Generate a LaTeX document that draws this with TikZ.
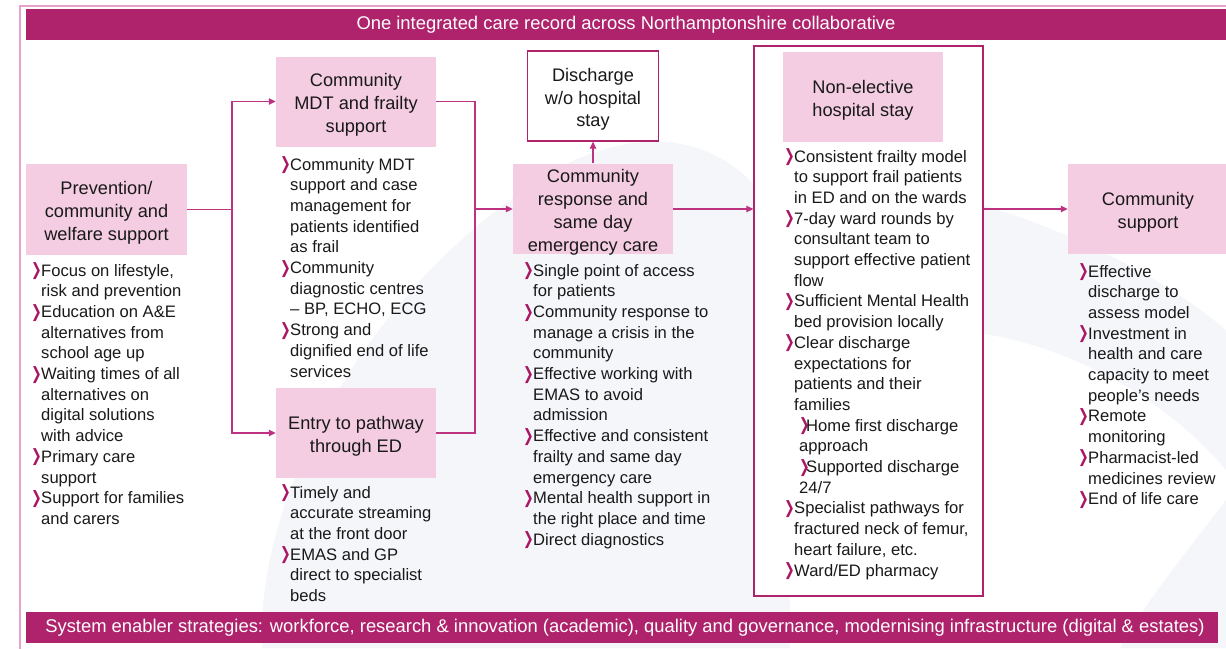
\documentclass[tikz,border=0pt]{standalone}
\usepackage{fontspec}
\setmainfont{Liberation Sans}
\newfontfamily\dingfont{DejaVu Sans}
\usepackage{xcolor}
\usetikzlibrary{arrows.meta}

\definecolor{plum}{RGB}{174,35,108}
\definecolor{blush}{RGB}{244,205,226}
\definecolor{rim}{RGB}{232,160,205}
\definecolor{wire}{RGB}{190,50,130}
\definecolor{ink}{RGB}{25,25,25}
\definecolor{mist}{RGB}{244,246,250}
\definecolor{dot}{RGB}{170,22,100}

% chevron bullet in front of each item
\newcommand{\bl}{\makebox[10pt][l]{\raisebox{0.4pt}{\scalebox{0.75}[1]{\dingfont\bfseries\fontsize{17}{17}\selectfont\color{dot}❯}}}}
\newcommand{\sbl}{\makebox[7pt][l]{\raisebox{0.4pt}{\scalebox{0.75}[1]{\dingfont\bfseries\fontsize{17}{17}\selectfont\color{dot}❯}}}}
% box caption, set a little low in its box
\newcommand{\lbl}[1]{\raisebox{-3.5pt}[\height][\depth]{\begin{tabular}{@{}c@{}}#1\end{tabular}}}

\begin{document}
\begin{tikzpicture}[x=1pt,y=-1pt,
    stage/.style={fill=blush, minimum width=160, minimum height=90, inner sep=0pt,
                  align=center, text=ink, font=\fontsize{18.2}{22.7}\selectfont},
    outcome/.style={stage, fill=white, draw=plum, line width=1.3pt},
    banner/.style={fill=plum, text=white, inner sep=0pt, minimum height=31,
                   font=\fontsize{18.4}{22}\selectfont},
    items/.style={anchor=base west, inner sep=0pt, text=ink,
                  font=\fontsize{16.6}{20.7}\selectfont},
    wire/.style={draw=wire, line width=1.2pt},
    flow/.style={wire, -{Triangle[length=7pt,width=6.5pt]}}]
\useasboundingbox (0,0) rectangle (1226,648);

% faint swirl behind
\fill[mist] (262,648) .. controls (255,470) and (400,250) .. (575,160)
    .. controls (690,110) and (760,170) .. (790,240) -- (790,648) -- cycle;
\fill[mist] (760,170) .. controls (930,170) and (1120,240) .. (1226,330)
    -- (1226,470) .. controls (1150,380) and (1020,320) .. (900,330)
    -- (790,330) -- cycle;
\fill[mist] (1226,500) .. controls (1180,560) and (1140,610) .. (1120,648) -- (1226,648) -- cycle;

\draw[rim, line width=2pt] (1230,6) -- (20,6) -- (20,652);

\node[banner, minimum width=1200] (record) at (626,24.5)
    {One integrated care record across Northamptonshire collaborative};
\node[banner, minimum width=1192] (enabler) at (622,627.5)
    {\hspace*{6pt}System enabler strategies: workforce, research \& innovation (academic), quality and governance, modernising infrastructure (digital \& estates)};

\node[outcome, fill=white, minimum width=229, minimum height=550] (acute) at (868.5,321) {};

\node[stage, minimum width=161, minimum height=91] (prev) at (106.5,209.5) {\lbl{Prevention/\\community and\\welfare support}};
\node[stage] (mdt) at (356,101.5) {\lbl{Community\\MDT and frailty\\support}};
\node[stage] (entry) at (356,433) {\lbl{Entry to pathway\\through ED}};
\node[outcome, minimum width=131, minimum height=90] (home) at (593,96) {\lbl{Discharge\\w/o hospital\\stay}};
\node[stage] (resp) at (593,209) {\lbl{Community\\response and\\same day\\emergency care}};
\node[stage] (stay) at (863,97) {\lbl{Non-elective\\hospital stay}};
\node[stage] (cs) at (1148,209) {\lbl{Community\\support}};

\coordinate (split) at (232,209.5);
\coordinate (merge) at (475,209);

\draw[wire] (prev.east) -- (split);
\draw[flow] (split) |- (mdt.west);
\draw[flow] (split) |- (entry.west);
\draw[wire] (mdt.east) -| (merge);
\draw[wire] (entry.east) -| (merge);
\draw[flow] (merge) -- (resp.west);
\draw[flow] (resp.north) -- (home.south);
\draw[flow] (resp.east) -- (resp.east -| acute.west);
\draw[flow] (acute.east |- cs.west) -- (cs.west);

\node[items] (prevlist) at (31,276) {\begin{tabular}[t]{@{}l@{}l@{}}
\bl & Focus on lifestyle,\\
    & risk and prevention\\
\bl & Education on A\&E\\
    & alternatives from\\
    & school age up\\
\bl & Waiting times of all\\
    & alternatives on\\
    & digital solutions\\
    & with advice\\
\bl & Primary care\\
    & support\\
\bl & Support for families\\
    & and carers
\end{tabular}};

\node[items] (mdtlist) at (280,170) {\begin{tabular}[t]{@{}l@{}l@{}}
\bl & Community MDT\\
    & support and case\\
    & management for\\
    & patients identified\\
    & as frail\\
\bl & Community\\
    & diagnostic centres\\
    & – BP, ECHO, ECG\\
\bl & Strong and\\
    & dignified end of life\\
    & services
\end{tabular}};

\node[items] (entrylist) at (280,498) {\begin{tabular}[t]{@{}l@{}l@{}}
\bl & Timely and\\
    & accurate streaming\\
    & at the front door\\
\bl & EMAS and GP\\
    & direct to specialist\\
    & beds
\end{tabular}};

\node[items] (resplist) at (523,276) {\begin{tabular}[t]{@{}l@{}l@{}}
\bl & Single point of access\\
    & for patients\\
\bl & Community response to\\
    & manage a crisis in the\\
    & community\\
\bl & Effective working with\\
    & EMAS to avoid\\
    & admission\\
\bl & Effective and consistent\\
    & frailty and same day\\
    & emergency care\\
\bl & Mental health support in\\
    & the right place and time\\
\bl & Direct diagnostics
\end{tabular}};

\node[items] (staylist) at (784,162) {\begin{tabular}[t]{@{}l@{}l@{}}
\bl & Consistent frailty model\\
    & to support frail patients\\
    & in ED and on the wards\\
\bl & 7-day ward rounds by\\
    & consultant team to\\
    & support effective patient\\
    & flow\\
\bl & Sufficient Mental Health\\
    & bed provision locally\\
\bl & Clear discharge\\
    & expectations for\\
    & patients and their\\
    & families\\
    & \hspace{5pt}\sbl Home first discharge\\
    & \hspace{5pt}approach\\
    & \hspace{5pt}\sbl Supported discharge\\
    & \hspace{5pt}24/7\\
\bl & Specialist pathways for\\
    & fractured neck of femur,\\
    & heart failure, etc.\\
\bl & Ward/ED pharmacy
\end{tabular}};

\node[items] (cslist) at (1078,277) {\begin{tabular}[t]{@{}l@{}l@{}}
\bl & Effective\\
    & discharge to\\
    & assess model\\
\bl & Investment in\\
    & health and care\\
    & capacity to meet\\
    & people’s needs\\
\bl & Remote\\
    & monitoring\\
\bl & Pharmacist-led\\
    & medicines review\\
\bl & End of life care
\end{tabular}};
\end{tikzpicture}
\end{document}
